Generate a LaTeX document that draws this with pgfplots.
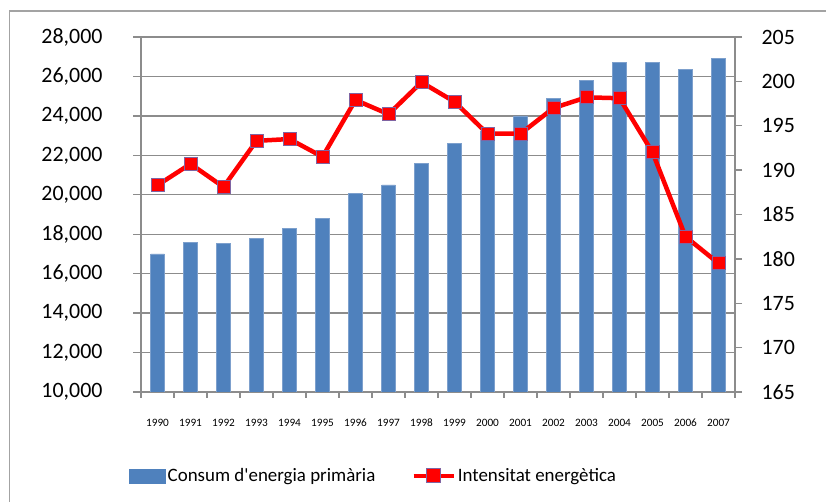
\documentclass[border=0pt]{standalone}
\usepackage{pgfplots}
\pgfplotsset{compat=1.18}
\usepackage{fontspec}
\setmainfont{Carlito}
\definecolor{barblue}{RGB}{79,129,189}
\definecolor{baredge}{RGB}{125,160,205}
\definecolor{gridgray}{RGB}{140,140,140}
\definecolor{mkedge}{RGB}{128,100,162}
\begin{document}
\begin{tikzpicture}[x=1bp,y=1bp]
\path[use as bounding box] (0,0) rectangle (826,502);
\draw[gridgray!80,line width=1.5bp] (9.5,0) -- (9.5,491) -- (826,491);
\begin{axis}[
  at={(141bp,110bp)}, anchor=south west,
  scale only axis, width=594bp, height=355bp,
  xmin=-0.5, xmax=17.5, ymin=10000, ymax=28000,
  axis x line*=bottom, axis y line*=left,
  axis line style={gridgray, line width=1.3bp},
  ytick={10000,12000,...,28000},
  scaled y ticks=false,
  ymajorgrids, grid style={gridgray, line width=1.3bp},
  xtick={0,...,17},
  xticklabels={1990,1991,1992,1993,1994,1995,1996,1997,1998,1999,2000,2001,2002,2003,2004,2005,2006,2007},
  minor xtick={-0.5,0.5,...,17.5},
  tick align=outside,
  major tick length=8bp, minor tick length=6bp,
  every tick/.style={gridgray, line width=1.3bp},
  major x tick style={draw=none},
  /pgf/number format/.cd, fixed, 1000 sep={,}, assume math mode=true,
  /pgfplots/.cd,
  yticklabel style={font=\fontsize{22}{26}\selectfont, xshift=-27bp},
  xticklabel style={font=\fontsize{11.3}{13}\selectfont, yshift=-15bp, text depth=0pt, text height=8bp},
  ybar, bar width=13.5bp,
]
\addplot[fill=barblue, draw=baredge, line width=0.6bp] coordinates {
(0,17000) (1,17600) (2,17550) (3,17800) (4,18300) (5,18800) (6,20050) (7,20500) (8,21600)
(9,22600) (10,23200) (11,24000) (12,24900) (13,25800) (14,26700) (15,26700) (16,26350) (17,26900)};
\end{axis}
\begin{axis}[
  at={(141bp,110bp)}, anchor=south west,
  scale only axis, width=594bp, height=355bp,
  xmin=-0.5, xmax=17.5, ymin=165, ymax=205,
  axis x line=none, axis y line*=right,
  axis line style={gridgray, line width=1.3bp},
  ytick={165,170,...,205},
  tick align=outside, major tick length=7bp,
  every tick/.style={gridgray, line width=1.3bp},
  /pgf/number format/assume math mode=true,
  yticklabel style={font=\fontsize{22}{26}\selectfont, xshift=16bp},
  legend columns=2,
  legend style={at={(-0.02,-0.236)}, anchor=west, draw=none, fill=none,
    font=\fontsize{19}{23}\selectfont, inner sep=0pt,
    /tikz/every even column/.append style={column sep=34bp}},
  legend cell align=left,
]
\addlegendimage{area legend, legend image code/.code={\fill[barblue] (0bp,-7bp) rectangle (36bp,7bp);}}
\addlegendentry{Consum d\textquotesingle energia primària}
\addplot[red, line width=4.5bp, mark=square*, mark size=6.5bp,
  mark options={fill=red, draw=mkedge, line width=1bp},
  legend image code/.code={\draw[red,line width=4.5bp] (0bp,0bp) -- (40bp,0bp);
     \fill[red,draw=mkedge,line width=1bp] (13bp,-7bp) rectangle (27bp,7bp);}] coordinates {
(0,188.3) (1,190.7) (2,188.1) (3,193.3) (4,193.5) (5,191.5) (6,197.9) (7,196.3) (8,199.9)
(9,197.7) (10,194.1) (11,194.1) (12,197.0) (13,198.2) (14,198.1) (15,192.0) (16,182.5) (17,179.5)};
\addlegendentry{Intensitat energètica}
\end{axis}
\end{tikzpicture}
\end{document}
